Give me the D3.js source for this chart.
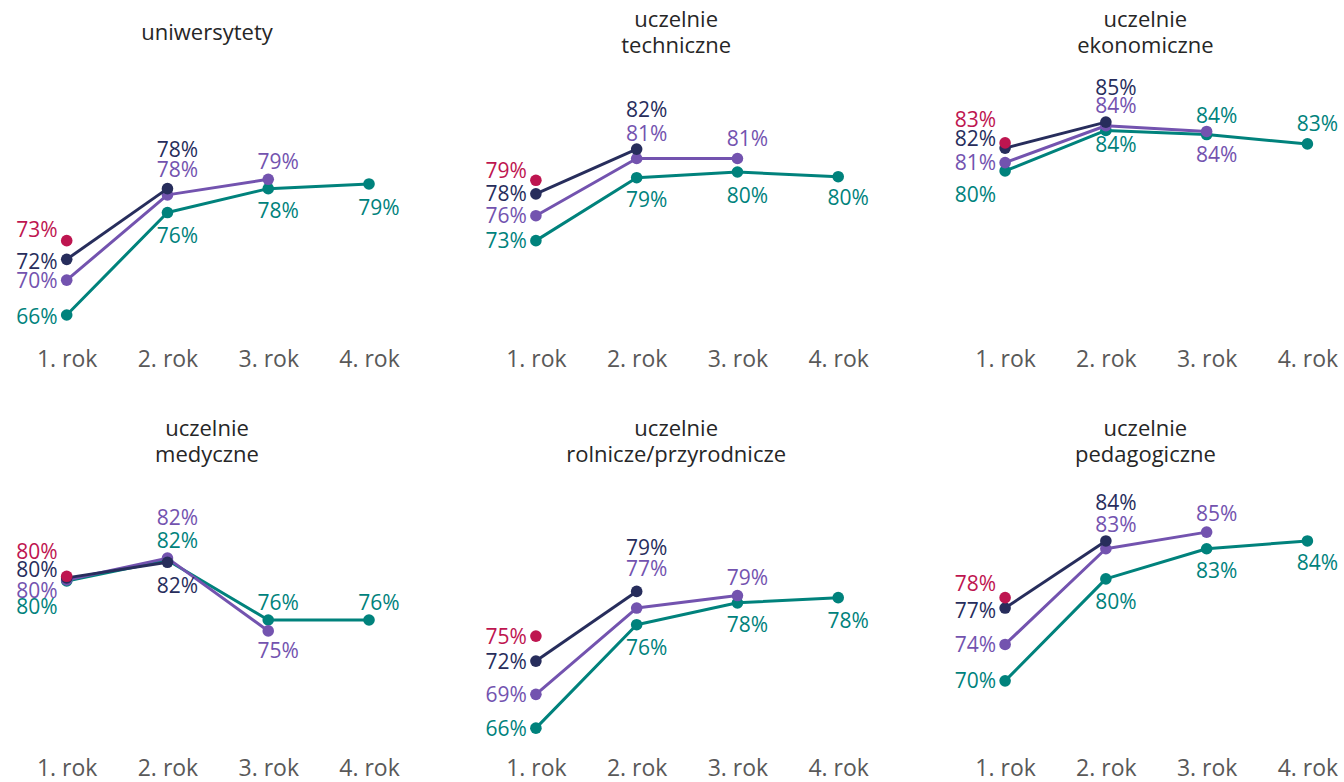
<!DOCTYPE html>
<html>
<head>
<meta charset="utf-8">
<script src="https://cdn.jsdelivr.net/npm/d3@7"></script>
<style>
  html, body { margin: 0; padding: 0; background: #ffffff; }
  svg { display: block; font-family: "Open Sans", "Noto Sans", sans-serif; }
</style>
</head>
<body>
<svg id="chart" width="1344" height="782"></svg>
<script>
// ---------- data ----------
const years = ["1. rok", "2. rok", "3. rok", "4. rok"];

const panelTitles = [
  ["uniwersytety"],
  ["uczelnie", "techniczne"],
  ["uczelnie", "ekonomiczne"],
  ["uczelnie", "medyczne"],
  ["uczelnie", "rolnicze/przyrodnicze"],
  ["uczelnie", "pedagogiczne"]
];

// cohort observed only in 1st year (crimson)
const crimsonValues = [[73.4], [79.2], [82.8], [80.45], [74.7], [78.4]];
// cohort observed in years 1-2 (navy)
const navyValues = [[71.6, 78.4], [77.9, 82.2], [82.3, 84.8], [80.3, 81.8], [72.3, 79.0], [77.4, 83.85]];
// cohort observed in years 1-3 (purple)
const purpleValues = [[69.6, 77.8, 79.3], [75.8, 81.3, 81.3], [80.9, 84.45, 83.9], [80.1, 82.2, 75.2], [69.1, 77.4, 78.6], [73.9, 83.1, 84.7]];
// cohort observed in years 1-4 (teal)
const tealValues = [[66.25, 76.1, 78.4, 78.85], [73.4, 79.45, 80.0, 79.55], [80.1, 84.0, 83.6, 82.7], [80.0, 82.0, 76.25, 76.25], [65.85, 75.8, 77.9, 78.4], [70.4, 80.2, 83.1, 83.85]];

// ---------- layout (label placement: L = left of point, C = centred above/below; number = vertical offset) ----------
const labelPlacement = [
  { crimson: [["L", -11]], navy: [["L", 2], ["C", -39]], purple: [["L", 0], ["C", -25], ["C", -18]], teal: [["L", 1], ["C", 23], ["C", 22], ["C", 23]] },
  { crimson: [["L", -10]], navy: [["L", 0], ["C", -39.5]], purple: [["L", 0], ["C", -25], ["C", -20]], teal: [["L", 0], ["C", 22], ["C", 23], ["C", 21]] },
  { crimson: [["L", -23]], navy: [["L", -10], ["C", -35]], purple: [["L", 0], ["C", -20], ["C", 22.5]], teal: [["L", 23], ["C", 14.5], ["C", -19], ["C", -20.5]] },
  { crimson: [["L", -25]], navy: [["L", -8.5], ["C", 23]], purple: [["L", 10.5], ["C", -40.5], ["C", 20]], teal: [["L", 25.5], ["C", -20], ["C", -17.5], ["C", -17.5]] },
  { crimson: [["L", 0]], navy: [["L", 0], ["C", -44]], purple: [["L", 0], ["C", -40], ["C", -18]], teal: [["L", 0], ["C", 22.5], ["C", 22], ["C", 23]] },
  { crimson: [["L", -14]], navy: [["L", 2], ["C", -38.5]], purple: [["L", 0], ["C", -24], ["C", -19]], teal: [["L", 0], ["C", 23], ["C", 21.5], ["C", 21.5]] }
];

const colors = { crimson: "#BE1550", navy: "#272D5C", purple: "#7353AF", teal: "#00827C" };
const drawOrder = ["teal", "purple", "navy", "crimson"];
const seriesData = { crimson: crimsonValues, navy: navyValues, purple: purpleValues, teal: tealValues };

const colStep = 469.2, rowStep = 409;

const x = d3.scalePoint().domain(years).range([66.7, 369]);
const y = d3.scaleLinear().domain([60, 90]).range([380, 68]);
const fmt = v => d3.format(".0f")(v) + "%";

const svg = d3.select("#chart");

panelTitles.forEach((title, p) => {
  const col = p % 3, row = Math.floor(p / 3);
  const g = svg.append("g").attr("transform", `translate(${col * colStep},${row * rowStep})`);

  // title
  const tt = g.append("text")
    .attr("x", 207)
    .attr("text-anchor", "middle")
    .attr("fill", "#262626")
    .style("font-size", "22px");
  if (title.length === 1) {
    tt.append("tspan").attr("x", 207).attr("y", 40).text(title[0]);
  } else {
    tt.append("tspan").attr("x", 207).attr("y", 27).text(title[0]);
    tt.append("tspan").attr("x", 207).attr("y", 53).text(title[1]);
  }

  // x axis labels
  const axis = d3.axisBottom(x).tickSize(0).tickPadding(0);
  const ag = g.append("g").attr("transform", "translate(0,350)").call(axis);
  ag.select(".domain").remove();
  ag.selectAll("text")
    .attr("y", 17)
    .attr("dy", 0)
    .attr("fill", "#595959")
    .style("font-size", "23px")
    .style("font-family", "'Open Sans', sans-serif");

  const line = d3.line().x((d, i) => x(years[i])).y(d => y(d));

  drawOrder.forEach(key => {
    const vals = seriesData[key][p];
    if (vals.length > 1) {
      g.append("path")
        .datum(vals)
        .attr("d", line)
        .attr("fill", "none")
        .attr("stroke", colors[key])
        .attr("stroke-width", 3)
        .attr("stroke-linejoin", "round");
    }
    g.selectAll(null)
      .data(vals)
      .enter()
      .append("circle")
      .attr("cx", (d, i) => x(years[i]))
      .attr("cy", d => y(d))
      .attr("r", 5.8)
      .attr("fill", colors[key]);
  });

  // labels after marks
  drawOrder.forEach(key => {
    const vals = seriesData[key][p];
    const place = labelPlacement[p][key];
    g.selectAll(null)
      .data(vals)
      .enter()
      .append("text")
      .attr("x", (d, i) => place[i][0] === "L" ? x(years[i]) - 9 : x(years[i]) + 10)
      .attr("y", (d, i) => y(d) + place[i][1])
      .attr("dy", "0.36em")
      .attr("text-anchor", (d, i) => place[i][0] === "L" ? "end" : "middle")
      .attr("fill", colors[key])
      .style("font-size", "21px")
      .text(d => fmt(d));
  });
});
</script>
</body>
</html>
